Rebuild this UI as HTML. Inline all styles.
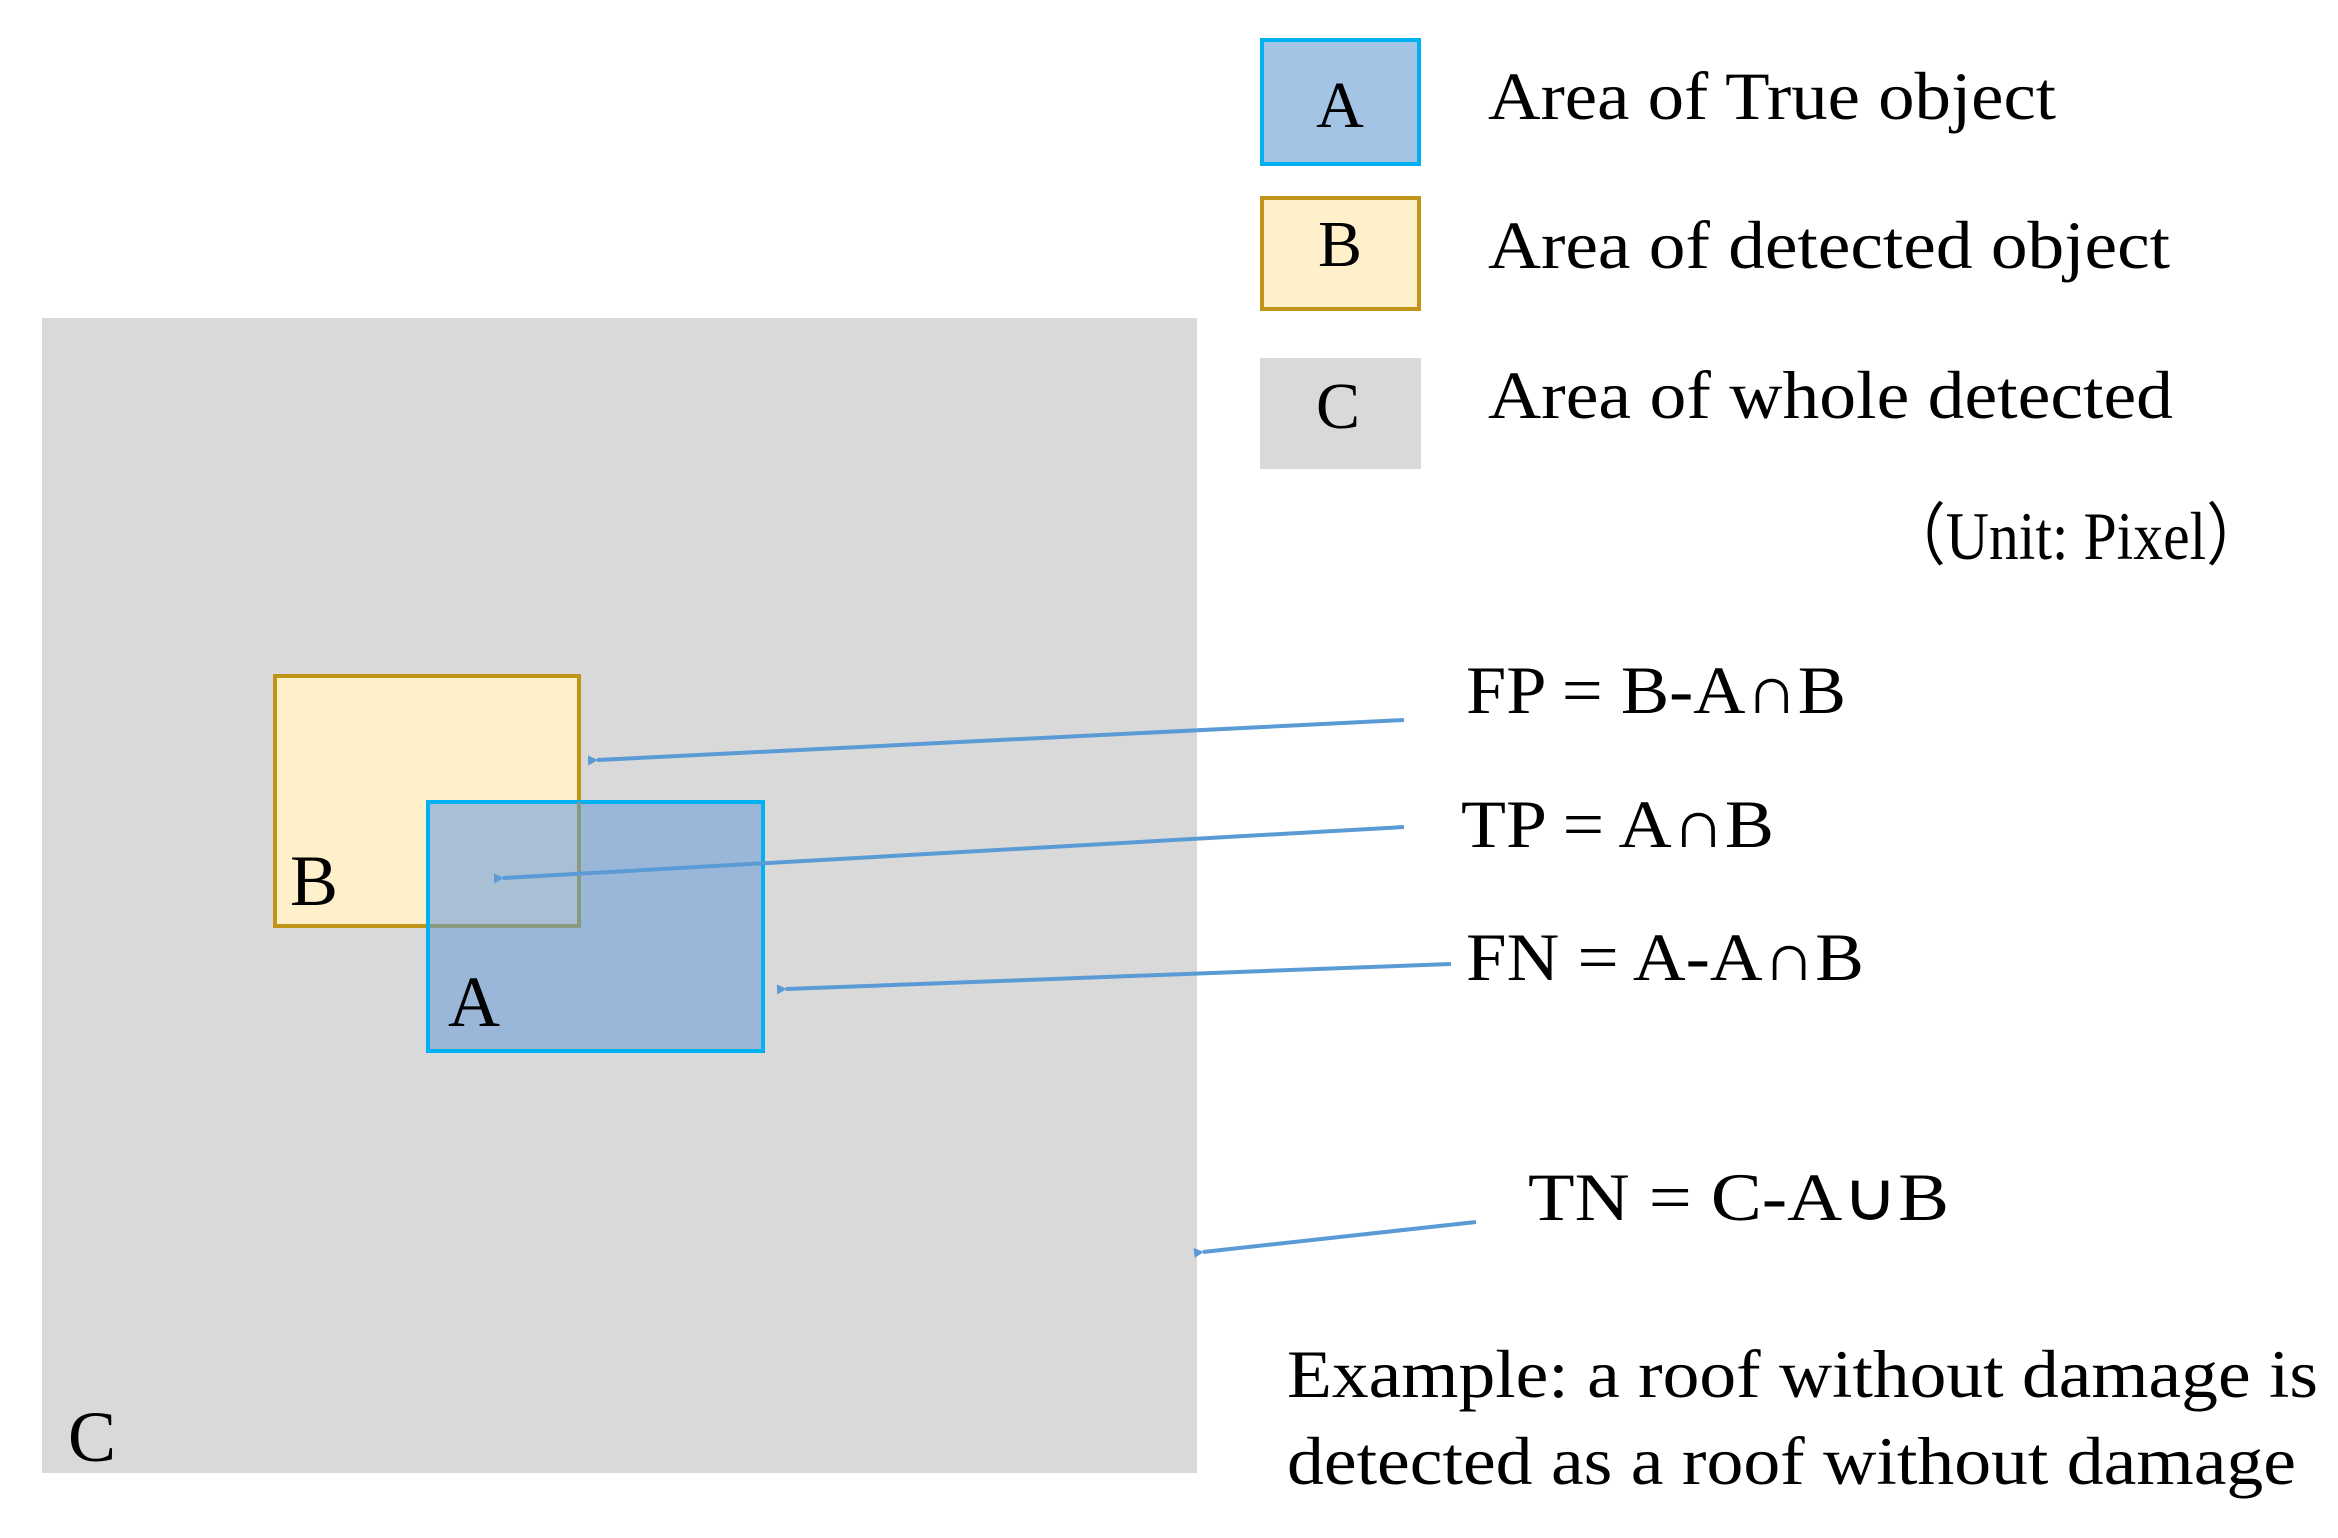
<!DOCTYPE html>
<html><head><meta charset="utf-8"><style>
html,body{margin:0;padding:0;background:#fff;}
svg{display:block;}
text{font-family:"Liberation Serif",serif;fill:#000;}
</style></head><body>
<svg width="2338" height="1538" viewBox="0 0 2338 1538" xmlns="http://www.w3.org/2000/svg">
<defs>
<marker id="ar" markerWidth="10" markerHeight="10" refX="1" refY="5" orient="auto" markerUnits="userSpaceOnUse" viewBox="0 0 10 10">
<path d="M10,0 L0,5 L10,10 Z" fill="#5b9bd5"/>
</marker>
</defs>
<!-- C area -->
<rect x="42" y="318" width="1155" height="1155" fill="#d9d9d9"/>
<!-- B box -->
<rect x="275" y="676" width="304" height="250" fill="#fff0cc" stroke="#c09418" stroke-width="4"/>
<!-- A box -->
<rect x="428" y="802" width="335" height="249" fill="#6f9fd8" fill-opacity="0.6" stroke="#00b0f0" stroke-width="4"/>
<line x1="579" y1="802" x2="579" y2="926" stroke="#8a9a80" stroke-width="4"/>
<line x1="430" y1="926" x2="579" y2="926" stroke="#8a9a80" stroke-width="4"/>
<text x="290" y="905" font-size="72">B</text>
<text x="448" y="1026" font-size="72">A</text>
<text x="68" y="1461" font-size="72">C</text>
<!-- legend -->
<rect x="1262" y="40" width="157" height="124" fill="#a4c4e6" stroke="#00b0f0" stroke-width="4"/>
<text x="1340" y="127" font-size="66" text-anchor="middle">A</text>
<rect x="1262" y="198" width="157" height="111" fill="#fff0cc" stroke="#c09418" stroke-width="4"/>
<text x="1340" y="266" font-size="66" text-anchor="middle">B</text>
<rect x="1260" y="358" width="161" height="111" fill="#d9d9d9"/>
<text x="1338" y="428" font-size="66" text-anchor="middle">C</text>
<text x="1488" y="119" font-size="68" textLength="568" lengthAdjust="spacingAndGlyphs">Area of True object</text>
<text x="1488" y="268" font-size="68" textLength="682" lengthAdjust="spacingAndGlyphs">Area of detected object</text>
<text x="1488" y="418" font-size="68" textLength="685" lengthAdjust="spacingAndGlyphs">Area of whole detected</text>
<text x="1886" y="559" font-size="68" textLength="380" lengthAdjust="spacingAndGlyphs">（Unit: Pixel）</text>
<!-- formulas -->
<text x="1466" y="713" font-size="68" textLength="380" lengthAdjust="spacingAndGlyphs">FP = B-A∩B</text>
<text x="1461" y="847" font-size="68" textLength="313" lengthAdjust="spacingAndGlyphs">TP = A∩B</text>
<text x="1466" y="980" font-size="68" textLength="398" lengthAdjust="spacingAndGlyphs">FN = A-A∩B</text>
<text x="1528" y="1220" font-size="68" textLength="421" lengthAdjust="spacingAndGlyphs">TN = C-A∪B</text>
<text x="1287" y="1397" font-size="68" textLength="1031" lengthAdjust="spacingAndGlyphs">Example: a roof without damage is</text>
<text x="1287" y="1484" font-size="68" textLength="1009" lengthAdjust="spacingAndGlyphs">detected as a roof without damage</text>
<!-- arrows -->
<g stroke="#5b9bd5" stroke-width="4" fill="none">
<line x1="1404" y1="720" x2="597" y2="760" marker-end="url(#ar)"/>
<line x1="1404" y1="827" x2="503" y2="878" marker-end="url(#ar)"/>
<line x1="1451" y1="964" x2="786" y2="989" marker-end="url(#ar)"/>
<line x1="1476" y1="1222" x2="1203" y2="1252" marker-end="url(#ar)"/>
</g>
</svg>
</body></html>
